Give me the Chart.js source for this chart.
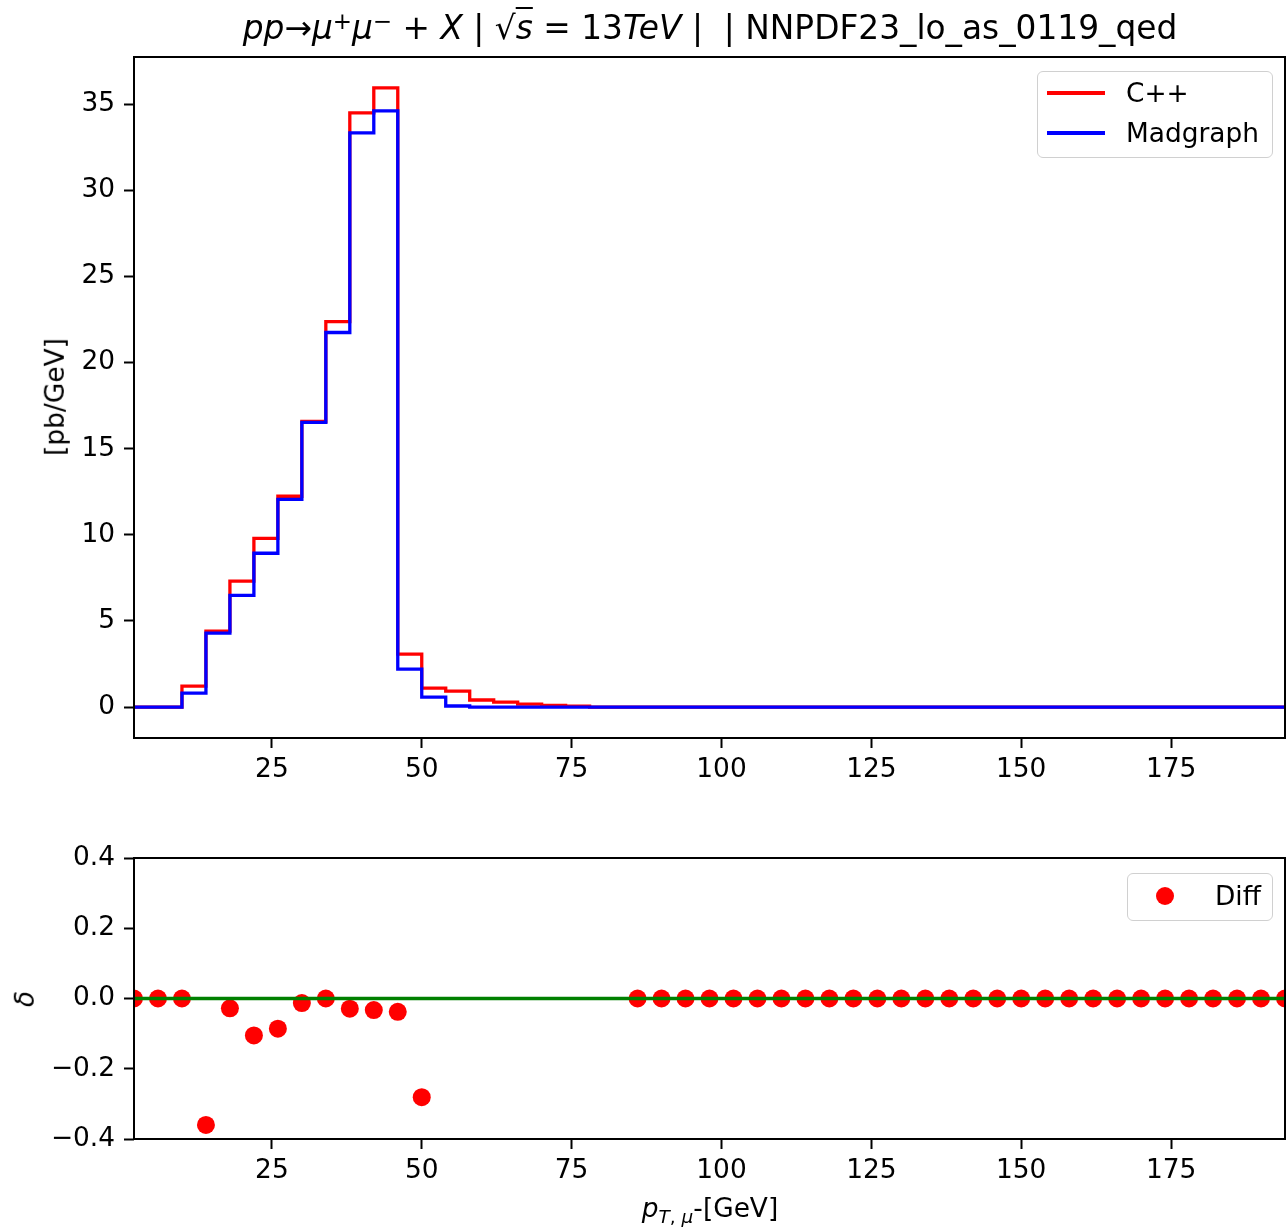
<!DOCTYPE html>
<html>
<head>
<meta charset="utf-8">
<script src="https://cdn.jsdelivr.net/npm/chart.js@4.4.1/dist/chart.umd.min.js"></script>
<style>
  html, body { margin: 0; padding: 0; background: #fff; }
  #fig { position: relative; width: 1287px; height: 1228px; overflow: hidden; background: #fff;
         font-family: 'DejaVu Sans', sans-serif; color: #000; }
  canvas { position: absolute; left: 0; }
  #topCanvas { top: 0; }
  #bottomCanvas { top: 790px; }
  .txt { position: absolute; white-space: pre; line-height: 1; }
  #title { left: 134px; width: 1152px; top: 12px; font-size: 32.8px; text-align: center; }
  #title sup { font-size: 0.7em; line-height: 0; vertical-align: 0.45em; }
  .ov { text-decoration: overline; text-decoration-thickness: 2px; }
  #ylabTop { left: 55px; top: 397px; font-size: 26.4px; transform: translate(-50%, -50%) rotate(-90deg); }
  #ylabBottom { left: 25px; top: 999px; font-size: 26.4px; transform: translate(-50%, -50%) rotate(-90deg); }
  #xlab { left: 134px; width: 1152px; top: 1195px; font-size: 26.4px; text-align: center; }
  #xlab sub { font-size: 0.7em; line-height: 0; vertical-align: -0.3em; }
  .legend { position: absolute; box-sizing: border-box; border: 1.5px solid #d0d0d0; border-radius: 6px;
            background: rgba(255,255,255,0.8); }
  .legend .row { position: absolute; left: 0; right: 0; height: 0; }
  .legend .line { position: absolute; height: 3.3px; margin-top: -1.65px; }
  .legend .dot { position: absolute; width: 18px; height: 18px; margin-top: -9px; border-radius: 50%; background: #ff0000; }
  .legend .lab { position: absolute; font-size: 26.4px; line-height: 1; transform: translateY(-50%); white-space: pre; }
</style>
</head>
<body>
<div id="fig">
  <canvas id="topCanvas" width="1287" height="790"></canvas>
  <canvas id="bottomCanvas" width="1287" height="438"></canvas>

  <div id="title" class="txt"><i>pp</i>→<i>μ</i><sup>+</sup><i>μ</i><sup>−</sup> + <i>X</i> | √<span class="ov"><i>s</i></span> = 13<i>TeV</i> |  | NNPDF23_lo_as_0119_qed</div>
  <div id="ylabTop" class="txt">[pb/GeV]</div>
  <div id="ylabBottom" class="txt"><i>δ</i></div>
  <div id="xlab" class="txt"><i>p</i><sub><i>T</i>, <i>μ</i></sub>-[GeV]</div>

  <div class="legend" style="left:1037px; top:71px; width:236px; height:87px;">
    <div class="row" style="top:21px;">
      <div class="line" style="left:9px; width:58px; background:#ff0000;"></div>
      <div class="lab" style="left:88px;">C++</div>
    </div>
    <div class="row" style="top:61px;">
      <div class="line" style="left:9px; width:58px; background:#0000ff;"></div>
      <div class="lab" style="left:88px;">Madgraph</div>
    </div>
  </div>

  <div class="legend" style="left:1127px; top:873px; width:146px; height:48px;">
    <div class="row" style="top:22px;">
      <div class="dot" style="left:28px;"></div>
      <div class="lab" style="left:87px;">Diff</div>
    </div>
  </div>
</div>

<script>
// Bin upper edges of the muon transverse-momentum histogram [GeV]
const binEdges = [2, 6, 10, 14, 18, 22, 26, 30, 34, 38, 42, 46, 50, 54, 58, 62, 66, 70, 74, 78,
  82, 86, 90, 94, 98, 102, 106, 110, 114, 118, 122, 126, 130, 134, 138, 142, 146, 150,
  154, 158, 162, 166, 170, 174, 178, 182, 186, 190, 194];

// Differential cross section [pb/GeV], value holds on (edge-4, edge]
const cppValues = [0, 0, 0, 1.22, 4.41, 7.31, 9.80, 12.24, 16.58, 22.38, 34.50, 35.95, 3.07,
  1.10, 0.93, 0.41, 0.29, 0.17, 0.09, 0.05,
  0, 0, 0, 0, 0, 0, 0, 0, 0, 0, 0, 0, 0, 0, 0, 0, 0, 0, 0, 0, 0, 0, 0, 0, 0, 0, 0, 0, 0];

const madgraphValues = [0, 0, 0, 0.81, 4.29, 6.49, 8.93, 12.06, 16.53, 21.75, 33.34, 34.62, 2.20,
  0.58, 0.06, 0, 0, 0, 0, 0,
  0, 0, 0, 0, 0, 0, 0, 0, 0, 0, 0, 0, 0, 0, 0, 0, 0, 0, 0, 0, 0, 0, 0, 0, 0, 0, 0, 0, 0];

// Relative difference per bin (null where it lies outside the plotted range)
const diffValues = [0, 0, 0, -0.36, -0.028, -0.105, -0.086, -0.013, 0.0, -0.029, -0.033, -0.038, -0.281,
  null, null, null, null, null, null, null, null,
  0, 0, 0, 0, 0, 0, 0, 0, 0, 0, 0, 0, 0, 0, 0, 0, 0, 0, 0, 0, 0, 0, 0, 0, 0, 0, 0, 0];

const xTickValues = [25, 50, 75, 100, 125, 150, 175];
const topYTickValues = [0, 5, 10, 15, 20, 25, 30, 35];
const bottomYTickValues = [-0.4, -0.2, 0.0, 0.2, 0.4];

const X_MIN = 2, X_MAX = 194;
const TICK_FONT = { family: "'DejaVu Sans', sans-serif", size: 26.4 };

const toPoints = (vals) => binEdges.map((x, i) => ({ x: x, y: vals[i] }));

// Draws the full rectangular frame around the plotting area
const frame = {
  id: 'frame',
  afterDraw(chart) {
    const { ctx, chartArea: a } = chart;
    ctx.save();
    ctx.strokeStyle = '#000';
    ctx.lineWidth = 2;
    ctx.strokeRect(a.left, a.top, a.right - a.left, a.bottom - a.top);
    ctx.restore();
  }
};

function axisGrid() {
  return { display: true, drawOnChartArea: false, drawTicks: true, tickLength: 10, tickWidth: 2, tickColor: '#000' };
}

function xScale(height) {
  return {
    type: 'linear', min: X_MIN, max: X_MAX,
    afterBuildTicks: s => { s.ticks = xTickValues.map(v => ({ value: v })); },
    afterFit: s => { s.height = height; },
    grid: axisGrid(),
    border: { display: false },
    ticks: { font: TICK_FONT, color: '#000', padding: 6, maxRotation: 0, autoSkip: false,
             callback: v => String(v) }
  };
}

function yScale(min, max, tickValues, fmt) {
  return {
    type: 'linear', min: min, max: max,
    afterBuildTicks: s => { s.ticks = tickValues.map(v => ({ value: v })); },
    afterFit: s => { s.width = 134; },
    grid: axisGrid(),
    border: { display: false },
    ticks: { font: TICK_FONT, color: '#000', padding: 9, autoSkip: false, callback: fmt }
  };
}

const common = {
  responsive: false,
  animation: false,
  devicePixelRatio: 1,
  events: [],
  plugins: { legend: { display: false }, tooltip: { enabled: false }, title: { display: false } }
};

// Upper panel: step histograms
const topMax = 35.95;
new Chart(document.getElementById('topCanvas'), {
  type: 'line',
  data: {
    datasets: [
      { label: 'Madgraph', data: toPoints(madgraphValues), borderColor: '#0000ff', borderWidth: 3.3,
        stepped: 'after', pointRadius: 0, fill: false, order: 0, clip: 0 },
      { label: 'C++', data: toPoints(cppValues), borderColor: '#ff0000', borderWidth: 3.3,
        stepped: 'after', pointRadius: 0, fill: false, order: 1, clip: 0 }
    ]
  },
  options: Object.assign({}, common, {
    layout: { autoPadding: false, padding: { top: 57, left: 0, right: 2, bottom: 0 } },
    scales: {
      x: xScale(52),
      y: yScale(-0.05 * topMax, 1.05 * topMax, topYTickValues, v => String(v))
    }
  }),
  plugins: [frame]
});

// Lower panel: relative difference
new Chart(document.getElementById('bottomCanvas'), {
  type: 'line',
  data: {
    datasets: [
      { label: 'zero', data: [{ x: X_MIN, y: 0 }, { x: X_MAX, y: 0 }], borderColor: '#008000',
        borderWidth: 3.3, pointRadius: 0, fill: false, order: 0, clip: 0 },
      { label: 'Diff', data: toPoints(diffValues), showLine: false, pointRadius: 9,
        pointBackgroundColor: '#ff0000', pointBorderWidth: 0, backgroundColor: '#ff0000',
        order: 1, clip: 0 }
    ]
  },
  options: Object.assign({}, common, {
    layout: { autoPadding: false, padding: { top: 68, left: 0, right: 2, bottom: 0 } },
    scales: {
      x: xScale(89),
      y: yScale(-0.4, 0.4, bottomYTickValues, v => v.toFixed(1).replace('-', '\u2212'))
    }
  }),
  plugins: [frame]
});
</script>
</body>
</html>
